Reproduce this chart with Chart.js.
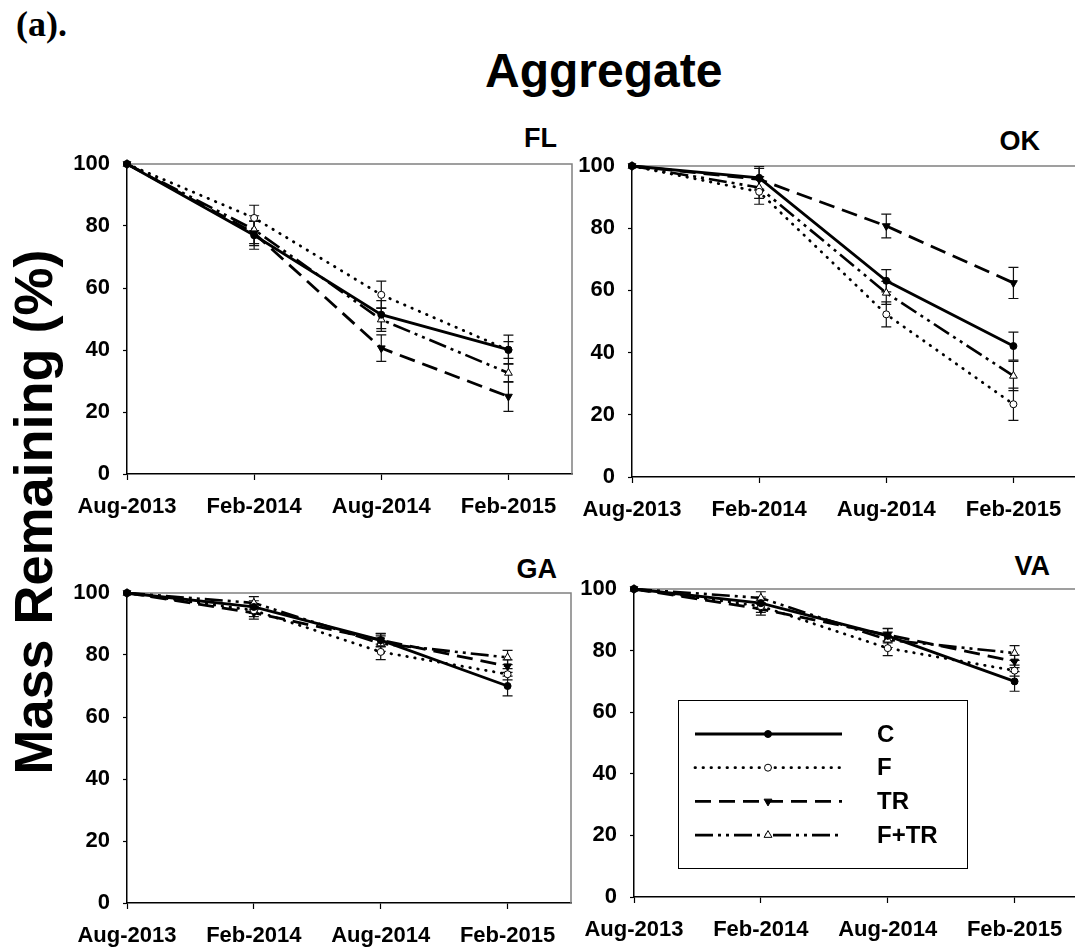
<!DOCTYPE html>
<html>
<head>
<meta charset="utf-8">
<script src="https://cdn.jsdelivr.net/npm/chart.js@4.4.1/dist/chart.umd.min.js"></script>
<style>
  html, body { margin: 0; padding: 0; background: #fff; overflow: hidden; width: 1075px; height: 950px; }
  .t { position: absolute; font-family: "Liberation Sans", Arial, sans-serif; font-weight: bold; color: #000; line-height: 1; white-space: nowrap; }
  canvas { position: absolute; }
</style>
</head>
<body>
<div class="t" style="font-family:'Liberation Serif','Times New Roman',serif;font-size:36px;left:16px;top:6px;">(a).</div>
<div class="t" style="font-size:48px;left:485px;top:47px;">Aggregate</div>
<div class="t" style="font-size:54px;left:33px;top:512px;transform:translate(-50%,-50%) rotate(-90deg);">Mass Remaining (%)</div>
<div class="t" style="font-size:27px;right:518px;top:125px;">FL</div>
<div class="t" style="font-size:27px;right:35px;top:128px;">OK</div>
<div class="t" style="font-size:27px;right:518px;top:556px;">GA</div>
<div class="t" style="font-size:27px;right:25px;top:553px;">VA</div>
<canvas id="fl"></canvas>
<canvas id="ok"></canvas>
<canvas id="ga"></canvas>
<canvas id="va"></canvas>
<script>
// sampling dates and y ticks
const dates = ['Aug-2013', 'Feb-2014', 'Aug-2014', 'Feb-2015'];
const yTicks = [0, 20, 40, 60, 80, 100];
const seriesNames = ['C', 'F', 'TR', 'F+TR'];

// FL
const FL_C = [100, 77.0, 51.4, 40.1];
const FL_F = [100, 82.6, 57.8, 40.0];
const FL_TR = [100, 77.7, 40.6, 25.0];
const FL_FTR = [100, 78.8, 49.8, 32.6];
const FL_C_err = [0, 4.5, 4.5, 4.7];
const FL_F_err = [0, 4.1, 4.4, 2.7];
const FL_TR_err = [0, 4.0, 4.3, 4.8];
const FL_FTR_err = [0, 4.5, 3.8, 3.0];

// OK
const OK_C = [100, 96.2, 63.1, 42.1];
const OK_F = [100, 91.7, 52.3, 23.4];
const OK_TR = [100, 95.7, 80.7, 62.4];
const OK_FTR = [100, 93.1, 59.2, 32.5];
const OK_C_err = [0, 3.6, 3.6, 4.5];
const OK_F_err = [0, 4.0, 4.0, 5.2];
const OK_TR_err = [0, 3.5, 3.8, 5.0];
const OK_FTR_err = [0, 3.5, 3.7, 4.7];

// GA
const GA_C = [100, 95.5, 84.8, 70.0];
const GA_F = [100, 94.4, 81.0, 73.8];
const GA_TR = [100, 93.6, 84.8, 76.4];
const GA_FTR = [100, 96.8, 83.7, 79.2];
const GA_C_err = [0, 2.0, 2.2, 3.2];
const GA_F_err = [0, 2.0, 2.5, 1.8];
const GA_TR_err = [0, 2.0, 2.0, 2.0];
const GA_FTR_err = [0, 2.0, 2.5, 2.3];

// VA
const VA_C = [100, 95.4, 84.8, 70.0];
const VA_F = [100, 94.4, 80.8, 73.5];
const VA_TR = [100, 93.5, 85.1, 76.5];
const VA_FTR = [100, 97.1, 83.5, 79.2];
const VA_C_err = [0, 2.0, 2.3, 3.2];
const VA_F_err = [0, 2.0, 2.4, 1.8];
const VA_TR_err = [0, 2.0, 2.1, 2.0];
const VA_FTR_err = [0, 2.0, 2.5, 2.4];

const FONT = '"Liberation Sans", Arial, sans-serif';

// line + marker look for C, F, TR, F+TR
const looks = [
  { borderWidth: 2.8, borderDash: [], borderCapStyle: 'butt', pointStyle: 'circle', pointRadius: 3.5, pointRotation: 0, pointBackgroundColor: '#000' },
  { borderWidth: 2.8, borderDash: [0.5, 7.5], borderCapStyle: 'round', pointStyle: 'circle', pointRadius: 3.5, pointRotation: 0, pointBackgroundColor: '#fff' },
  { borderWidth: 2.8, borderDash: [16, 8], borderCapStyle: 'butt', pointStyle: 'triangle', pointRadius: 4.5, pointRotation: 180, pointBackgroundColor: '#000' },
  { borderWidth: 2.6, borderDash: [18, 5, 3, 5, 3, 5], borderCapStyle: 'butt', pointStyle: 'triangle', pointRadius: 4.5, pointRotation: 0, pointBackgroundColor: '#fff' }
];

const errorBars = {
  id: 'errorBars',
  beforeDatasetsDraw(chart) {
    const { ctx, scales: { x, y } } = chart;
    ctx.save();
    ctx.strokeStyle = '#111';
    ctx.lineWidth = 1.2;
    chart.data.datasets.forEach((ds) => {
      ds.data.forEach((p, i) => {
        const e = ds.errors[i];
        if (!e) return;
        const px = x.getPixelForValue(p.x);
        const top = y.getPixelForValue(p.y + e);
        const bot = y.getPixelForValue(p.y - e);
        ctx.beginPath();
        ctx.moveTo(px, top); ctx.lineTo(px, bot);
        ctx.moveTo(px - 5, top); ctx.lineTo(px + 5, top);
        ctx.moveTo(px - 5, bot); ctx.lineTo(px + 5, bot);
        ctx.stroke();
      });
    });
    ctx.restore();
  }
};

// grey plot-area frame on top and right (Excel style)
const plotFrame = {
  id: 'plotFrame',
  beforeDatasetsDraw(chart) {
    const { ctx, chartArea: a } = chart;
    ctx.save();
    ctx.strokeStyle = '#808080';
    ctx.lineWidth = 1.5;
    ctx.beginPath();
    ctx.moveTo(a.left, a.top); ctx.lineTo(a.right, a.top); ctx.lineTo(a.right, a.bottom);
    ctx.stroke();
    ctx.restore();
  }
};

function drawMarker(ctx, look, x, y) {
  const r = look.pointRadius;
  ctx.save();
  ctx.fillStyle = look.pointBackgroundColor;
  ctx.strokeStyle = '#000';
  ctx.lineWidth = 1;
  ctx.setLineDash([]);
  ctx.beginPath();
  if (look.pointStyle === 'circle') {
    ctx.arc(x, y, r, 0, Math.PI * 2);
  } else {
    const s = look.pointRotation ? -1 : 1;
    ctx.moveTo(x, y - s * r);
    ctx.lineTo(x + r * 0.87, y + s * r * 0.5);
    ctx.lineTo(x - r * 0.87, y + s * r * 0.5);
    ctx.closePath();
  }
  ctx.fill();
  ctx.stroke();
  ctx.restore();
}

const boxLegend = {
  id: 'boxLegend',
  afterDraw(chart, args, opts) {
    if (!opts.show) return;
    const ctx = chart.ctx;
    const a = chart.chartArea;
    const bx = a.left + 44, by = a.top + 111, bw = 289, bh = 168;
    ctx.save();
    ctx.fillStyle = '#fff';
    ctx.fillRect(bx, by, bw, bh);
    ctx.strokeStyle = '#000';
    ctx.lineWidth = 1;
    ctx.strokeRect(bx + 0.5, by + 0.5, bw, bh);
    chart.data.datasets.forEach((ds, i) => {
      const look = looks[i];
      const ry = by + 34 + i * 33.7;
      ctx.strokeStyle = '#000';
      ctx.lineWidth = look.borderWidth;
      ctx.lineCap = look.borderCapStyle;
      ctx.setLineDash(look.borderDash);
      ctx.beginPath();
      ctx.moveTo(bx + 17, ry); ctx.lineTo(bx + 164, ry);
      ctx.stroke();
      drawMarker(ctx, look, bx + 90, ry);
      ctx.fillStyle = '#000';
      ctx.font = 'bold 24px ' + FONT;
      ctx.textBaseline = 'middle';
      ctx.fillText(ds.label, bx + 199, ry + 1);
    });
    ctx.restore();
  }
};

function makePanel(id, box, values, errors, legend) {
  const padL = 75, padT = 50, padR = 20, padB = 70;
  const cv = document.getElementById(id);
  cv.width = box.right - box.left + padL + padR;
  cv.height = box.bottom - box.top + padT + padB;
  cv.style.left = (box.left - padL) + 'px';
  cv.style.top = (box.top - padT) + 'px';

  const datasets = values.map((vals, i) => Object.assign({
    label: seriesNames[i],
    data: vals.map((v, k) => ({ x: k, y: v })),
    errors: errors[i],
    borderColor: '#000',
    pointBorderColor: '#000',
    pointBorderWidth: 1,
    tension: 0,
    clip: false,
    fill: false
  }, looks[i]));

  return new Chart(cv.getContext('2d'), {
    type: 'line',
    data: { datasets },
    options: {
      responsive: false,
      animation: false,
      layout: { padding: { top: padT, right: padR, left: 0, bottom: 0 } },
      plugins: { legend: { display: false }, tooltip: { enabled: false }, boxLegend: { show: legend } },
      scales: {
        x: {
          type: 'linear',
          min: 0,
          max: 3.5,
          afterFit: (s) => { s.height = padB; },
          afterBuildTicks: (s) => { s.ticks = s.ticks.filter((t) => Number.isInteger(t.value)); },
          border: { color: '#000', width: 1.5 },
          grid: { drawOnChartArea: false, tickLength: 6, tickColor: '#000', tickWidth: 1.2 },
          ticks: {
            stepSize: 1, autoSkip: false, maxRotation: 0, padding: 14, color: '#000',
            font: { family: FONT, size: 22, weight: 'bold' },
            callback: (v) => dates[v] || ''
          }
        },
        y: {
          min: 0,
          max: 100,
          afterFit: (s) => { s.width = padL; },
          afterBuildTicks: (s) => { s.ticks = yTicks.map((v) => ({ value: v })); },
          border: { color: '#000', width: 1.5 },
          grid: { drawOnChartArea: false, tickLength: 4, tickColor: '#000', tickWidth: 1.2 },
          ticks: { padding: 13, color: '#000', font: { family: FONT, size: 22, weight: 'bold' } }
        }
      }
    },
    plugins: [plotFrame, errorBars, boxLegend]
  });
}

makePanel('fl', { left: 127, top: 164, right: 572, bottom: 474 },
  [FL_C, FL_F, FL_TR, FL_FTR], [FL_C_err, FL_F_err, FL_TR_err, FL_FTR_err], false);
makePanel('ok', { left: 632, top: 166, right: 1077, bottom: 477 },
  [OK_C, OK_F, OK_TR, OK_FTR], [OK_C_err, OK_F_err, OK_TR_err, OK_FTR_err], false);
makePanel('ga', { left: 127, top: 593, right: 571, bottom: 903 },
  [GA_C, GA_F, GA_TR, GA_FTR], [GA_C_err, GA_F_err, GA_TR_err, GA_FTR_err], false);
makePanel('va', { left: 634, top: 589, right: 1078, bottom: 897 },
  [VA_C, VA_F, VA_TR, VA_FTR], [VA_C_err, VA_F_err, VA_TR_err, VA_FTR_err], true);
</script>
</body>
</html>
